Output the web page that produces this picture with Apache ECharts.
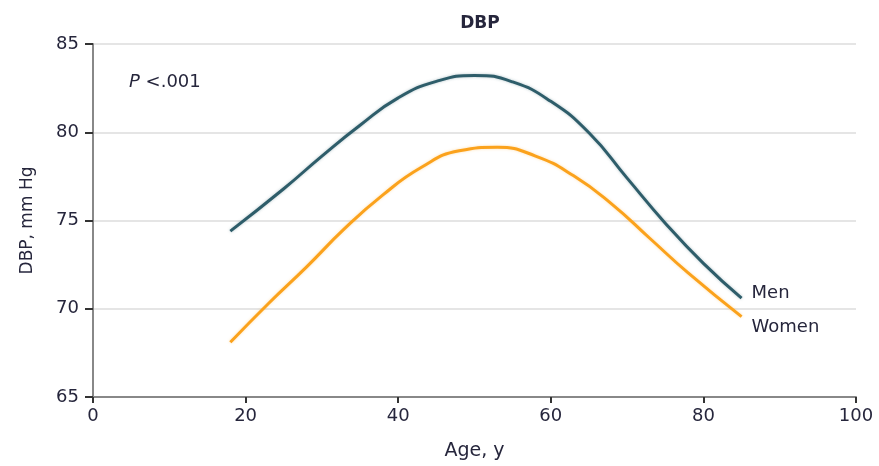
<!DOCTYPE html>
<html>
<head>
<meta charset="utf-8">
<script src="https://cdn.jsdelivr.net/npm/echarts@6/dist/echarts.min.js"></script>
<style>
  html, body { margin: 0; padding: 0; background: #fff; }
  #chart { width: 879px; height: 466px; }
</style>
</head>
<body>
<div id="chart"></div>
<script>
// ages and fitted DBP
var menAges = [18, 25, 30, 35, 40, 45, 50, 55, 60, 65, 70, 75, 80, 85];
var menDBP = [74.4, 76.8, 78.65, 80.4, 81.95, 82.88, 83.22, 82.85, 81.75, 79.97, 77.4, 74.85, 72.57, 70.6];
var womenAges = [18, 23, 28, 33, 38, 43, 48, 53, 58, 63, 68, 73, 78, 85];
var womenDBP = [68.1, 70.3, 72.37, 74.55, 76.45, 78.0, 78.95, 79.15, 78.65, 77.53, 75.93, 73.98, 72.03, 69.55];
var yTicks = [65, 70, 75, 80, 85];
var xTicks = [0, 20, 40, 60, 80, 100];

var FONT = 'DejaVu Sans';
var TXT = '#26263c';

function pairs(xs, ys) {
    var out = [];
    for (var i = 0; i < xs.length; i++) {
        out.push([xs[i], ys[i]]);
    }
    return out;
}

var chart = echarts.init(document.getElementById('chart'));

var option = {
    backgroundColor: '#fff',
    animation: false,
    title: {
        text: 'DBP',
        left: 475,
        top: 10,
        textAlign: 'center',
        textStyle: { fontFamily: FONT, fontSize: 17, fontWeight: 'bold', color: TXT }
    },
    graphic: [{
        type: 'text',
        left: 129,
        top: 73,
        style: {
            text: '{i|P} <.001',
            rich: {
                i: { fontStyle: 'italic', fontFamily: FONT, fontSize: 18, fill: TXT }
            },
            fontFamily: FONT,
            fontSize: 18,
            fill: TXT
        }
    }],
    grid: {
        left: 93,
        right: 23,
        top: 44,
        bottom: 69
    },
    xAxis: {
        type: 'value',
        min: xTicks[0],
        max: xTicks[xTicks.length - 1],
        interval: 20,
        name: 'Age, y',
        nameLocation: 'middle',
        nameGap: 45,
        nameTextStyle: { fontFamily: FONT, fontSize: 19, color: TXT },
        axisLine: { show: true, lineStyle: { color: '#888', width: 2 } },
        axisTick: { show: true, length: 6, lineStyle: { color: '#333', width: 2 } },
        axisLabel: { margin: 10, fontFamily: FONT, fontSize: 18, color: TXT },
        splitLine: { show: false }
    },
    yAxis: {
        type: 'value',
        min: yTicks[0],
        max: yTicks[yTicks.length - 1],
        interval: 5,
        name: 'DBP, mm Hg',
        nameLocation: 'middle',
        nameGap: 57,
        nameTextStyle: { fontFamily: FONT, fontSize: 17, color: TXT },
        axisLine: { show: true, lineStyle: { color: '#888', width: 2 } },
        axisTick: { show: true, length: 8, lineStyle: { color: '#333', width: 2 } },
        axisLabel: { margin: 14, fontFamily: FONT, fontSize: 18, color: TXT },
        splitLine: { show: true, lineStyle: { color: '#dddddd', width: 1.5 } }
    },
    series: [
        {
            name: 'Men',
            type: 'line',
            smooth: true,
            showSymbol: false,
            data: pairs(menAges, menDBP),
            lineStyle: {
                color: '#2e5d6a',
                width: 3,
                shadowColor: 'rgba(46,93,106,0.35)',
                shadowBlur: 3
            },
            endLabel: {
                show: true,
                formatter: 'Men',
                distance: 10,
                offset: [0, -5],
                fontFamily: FONT,
                fontSize: 18,
                color: TXT
            }
        },
        {
            name: 'Women',
            type: 'line',
            smooth: true,
            showSymbol: false,
            data: pairs(womenAges, womenDBP),
            lineStyle: {
                color: '#fba21c',
                width: 3,
                shadowColor: 'rgba(251,162,28,0.35)',
                shadowBlur: 3
            },
            endLabel: {
                show: true,
                formatter: 'Women',
                distance: 10,
                offset: [0, 11],
                fontFamily: FONT,
                fontSize: 18,
                color: TXT
            }
        }
    ]
};

chart.setOption(option);
</script>
</body>
</html>
